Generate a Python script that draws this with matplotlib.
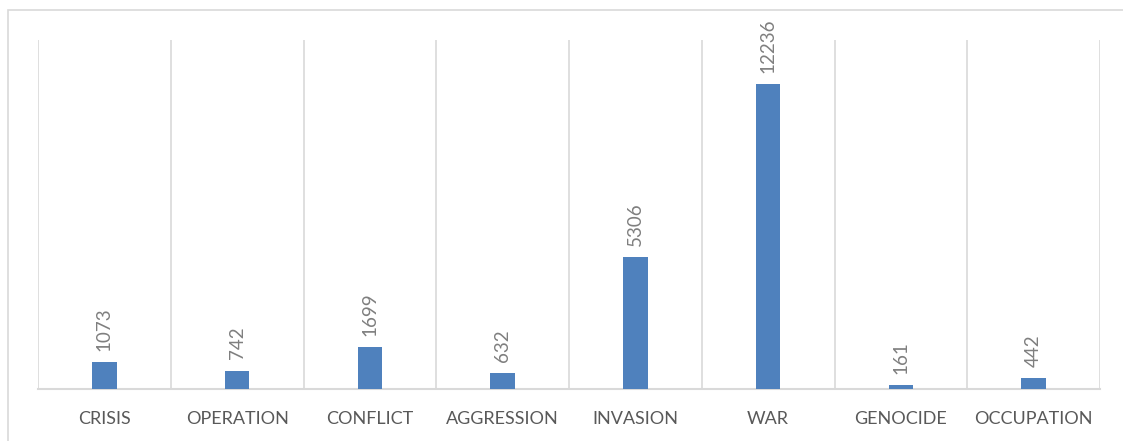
import matplotlib.pyplot as plt
import matplotlib.patches as mpatches
import numpy as np

categories = ["CRISIS", "OPERATION", "CONFLICT", "AGGRESSION", "INVASION",
              "WAR", "GENOCIDE", "OCCUPATION"]
counts = [1073, 742, 1699, 632, 5306, 12236, 161, 442]

plt.rcParams['font.family'] = ['Lato', 'DejaVu Sans']

fig = plt.figure(figsize=(11.23, 4.41), dpi=100)
ax = fig.add_axes([38 / 1123, 1 - 389 / 441, (1100 - 38) / 1123, (389 - 40) / 441])

x = np.arange(len(categories))
bars = ax.bar(x, counts, width=0.185, color="#4f81bd", zorder=3)

for rect, v in zip(bars, counts):
    ax.annotate(str(v), (rect.get_x() + rect.get_width() / 2, rect.get_height()),
                xytext=(0, 8), textcoords="offset points", rotation=90,
                ha="center", va="bottom", fontsize=13.5, color="#7f7f7f")

ax.set_xlim(-0.5, len(categories) - 0.5)
ax.set_ylim(0, 14000)
ax.set_yticks([])
ax.set_xticks(x)
ax.set_xticklabels(categories, fontsize=13, color="#595959")
ax.set_xticks(np.arange(-0.5, len(categories)), minor=True)
ax.tick_params(axis="x", which="both", length=0, pad=16)
ax.grid(True, which="minor", axis="x", color="#d9d9d9", linewidth=1.2, zorder=0)
ax.grid(False, which="major")
for s in ["left", "right", "top"]:
    ax.spines[s].set_visible(False)
ax.spines["bottom"].set_color("#d9d9d9")
ax.spines["bottom"].set_linewidth(1.5)

border = mpatches.Rectangle((8 / 1123, -0.1), 1.2, 1 - 10 / 441 + 0.1,
                            transform=fig.transFigure, fill=False,
                            edgecolor="#d9d9d9", linewidth=1.2)
fig.patches.append(border)

fig.savefig("out.png", dpi=100)
